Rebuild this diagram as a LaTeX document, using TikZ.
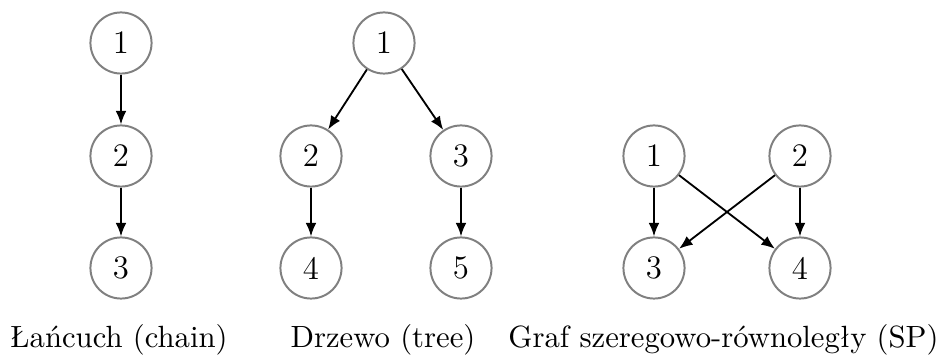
\documentclass[tikz,border=0pt]{standalone}
\usetikzlibrary{arrows.meta}
\newcommand{\captxt}[1]{{\fontsize{10.85}{13}\selectfont #1}}
\newcommand{\numtxt}[1]{{\fontsize{11.6}{14}\selectfont #1}}
\begin{document}
\begin{tikzpicture}[x=0.3534pt,y=-0.3534pt,
  vtx/.style={circle,draw=black!50,line width=0.7pt,minimum size=21.6pt,inner sep=0pt},
  edge/.style={-{Latex[length=4.8pt,width=3.8pt]},line width=0.65pt},
  caption/.style={anchor=base,inner sep=0pt}]
\useasboundingbox (0,0) rectangle (944,358);
% chain
\node[vtx] (c1) at (121,43) {\numtxt{1}};
\node[vtx] (c2) at (121,156) {\numtxt{2}};
\node[vtx] (c3) at (121,268) {\numtxt{3}};
\draw[edge] (c1) -- (c2);
\draw[edge] (c2) -- (c3);
% tree
\node[vtx] (t1) at (384,43) {\numtxt{1}};
\node[vtx] (t2) at (311,156) {\numtxt{2}};
\node[vtx] (t3) at (461,156) {\numtxt{3}};
\node[vtx] (t4) at (311,268) {\numtxt{4}};
\node[vtx] (t5) at (461,268) {\numtxt{5}};
\draw[edge] (t1) -- (t2);
\draw[edge] (t1) -- (t3);
\draw[edge] (t2) -- (t4);
\draw[edge] (t3) -- (t5);
% SP
\node[vtx] (s1) at (654,156) {\numtxt{1}};
\node[vtx] (s2) at (800,156) {\numtxt{2}};
\node[vtx] (s3) at (654,268) {\numtxt{3}};
\node[vtx] (s4) at (800,268) {\numtxt{4}};
\draw[edge] (s1) -- (s3);
\draw[edge] (s1) -- (s4);
\draw[edge] (s2) -- (s3);
\draw[edge] (s2) -- (s4);
% captions
\node[caption] (l1) at (119,348) {\captxt{Łańcuch (chain)}};
\node[caption] (l2) at (383,348) {\captxt{Drzewo (tree)}};
\node[caption] (l3) at (723.5,348) {\captxt{Graf szeregowo-równoległy (SP)}};
\end{tikzpicture}
\end{document}
